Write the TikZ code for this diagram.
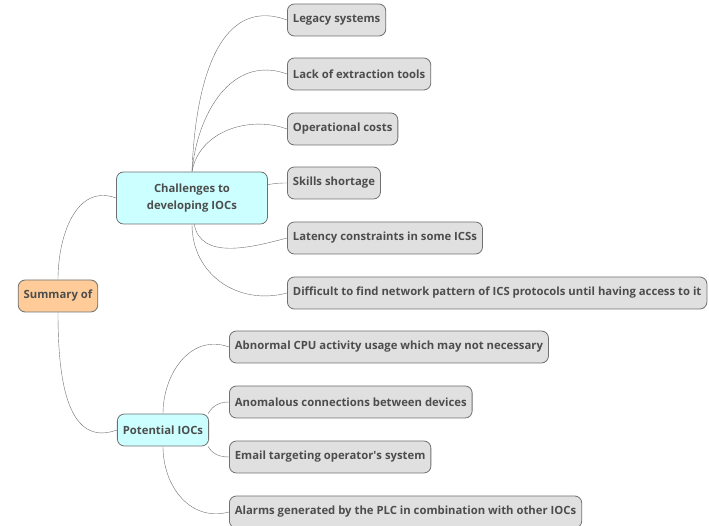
\documentclass[tikz,border=0pt]{standalone}
\usepackage{fontspec}
\setmainfont{Open Sans}
\usetikzlibrary{positioning}
\usetikzlibrary{backgrounds}
\definecolor{leafgray}{HTML}{E0E0E0}
\definecolor{topcyan}{HTML}{CCFFFF}
\definecolor{rootorange}{HTML}{FFCC99}
\definecolor{txtgray}{HTML}{4D4D4D}
\definecolor{linegray}{HTML}{707070}
\tikzset{
	topic/.style={
		rectangle,
		rounded corners=7pt,
		draw=linegray, thick,
		text=txtgray,
		font=\bfseries\fontsize{11.3}{17}\selectfont,
		minimum height=32pt,
		inner xsep=5.5pt,
		align=center},
	rootbox/.style={topic, fill=rootorange},
	mainbox/.style={topic, fill=topcyan},
	leafbox/.style={topic, fill=leafgray, anchor=west},
	link/.style={draw=linegray, thin},
}

\begin{document}
\begin{tikzpicture}
	 			[x=1pt, y=1pt]
	 			\useasboundingbox (0,0) rectangle (709,526);
	 			\node[rootbox] (summary) at (58,230) {Summary of};
	 			\node[mainbox, minimum height=52pt, minimum width=151pt] (chal) at (192,328) {Challenges to\\developing IOCs};
	 			\node[mainbox] (pot) at (163,96) {Potential IOCs};
	 			
	 			\node[leafbox] (legacy) at (287,506) {Legacy systems};
	 			\node[leafbox] (lack) at (287,452) {Lack of extraction tools};
	 			\node[leafbox] (opcost) at (287,397) {Operational costs};
	 			\node[leafbox] (skills) at (287,343) {Skills shortage};
	 			\node[leafbox] (latency) at (287,288) {Latency constraints in some ICSs};
	 			\node[leafbox] (diff) at (287,233) {Difficult to find network pattern of ICS protocols until having access to it};
	 			
	 			\node[leafbox] (cpu) at (229,179) {Abnormal CPU activity usage which may not necessary};
	 			\node[leafbox] (anom) at (229,124) {Anomalous connections between devices};
	 			\node[leafbox] (email) at (229,69) {Email targeting operator\textquotesingle s system};
	 			\node[leafbox] (alarm) at (229,14) {Alarms generated by the PLC in combination with other IOCs};
	 			
	 			\begin{scope}[on background layer]
	 			\draw[link] (summary.north) to[out=90, in=160, looseness=1.1] (chal.west);
	 			\draw[link] (summary.south) to[out=-90, in=200, looseness=1.1] (pot.west);
	 			
	 			\draw[link] (chal.north) to[out=88, in=160, looseness=1.1] (legacy.west);
	 			\draw[link] (chal.north) to[out=85, in=160, looseness=1.1] (lack.west);
	 			\draw[link] (chal.north) to[out=80, in=160] (opcost.west);
	 			\draw[link] (chal.10) to[out=10, in=180] (skills.west);
	 			\draw[link] (chal.-85) to[out=-80, in=195] (latency.west);
	 			\draw[link] (chal.south) to[out=-90, in=195, looseness=1.1] (diff.west);
	 			
	 			\draw[link] (pot.north) to[out=90, in=160, looseness=1.1] (cpu.west);
	 			\draw[link] (pot.20) to[out=60, in=180] (anom.west);
	 			\draw[link] (pot.-20) to[out=-60, in=180] (email.west);
	 			\draw[link] (pot.south) to[out=-90, in=195, looseness=1.1] (alarm.west);
	 			\end{scope}
	 			
	 			\end{tikzpicture}
\end{document}
